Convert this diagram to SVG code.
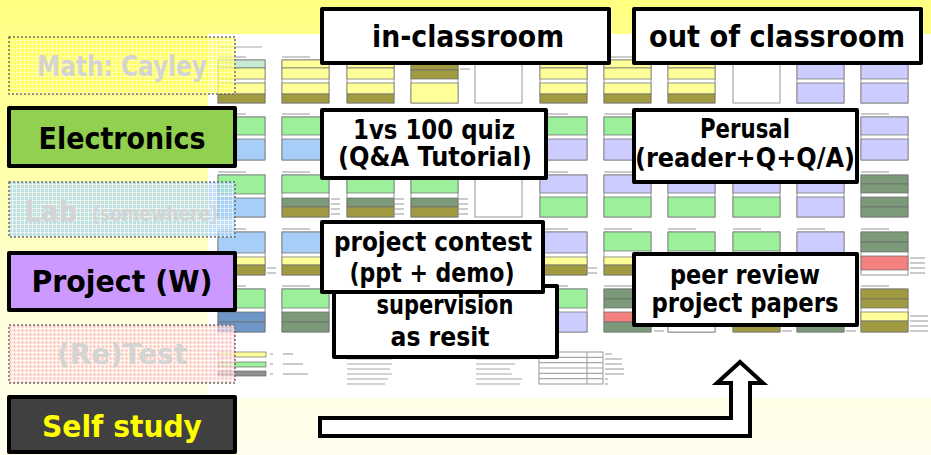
<svg xmlns="http://www.w3.org/2000/svg" width="931" height="455" viewBox="0 0 931 455">
<defs>
<linearGradient id="bg" x1="0" y1="0" x2="0" y2="1">
<stop offset="0" stop-color="#FFFF80"/>
<stop offset="0.35" stop-color="#FFFFA6"/>
<stop offset="0.7" stop-color="#FFFFDC"/>
<stop offset="1" stop-color="#FFFEEE"/>
</linearGradient>
<pattern id="dotY" width="4" height="4" patternUnits="userSpaceOnUse">
<rect width="4" height="4" fill="#FFFF50"/>
<rect x="0" y="0" width="4" height="1" fill="#FFFFFF" opacity="0.6"/>
<rect x="0" y="0" width="1" height="4" fill="#FFFFFF" opacity="0.6"/>
</pattern>
<pattern id="dotB" width="4" height="4" patternUnits="userSpaceOnUse">
<rect width="4" height="4" fill="#A8D4F4"/>
<rect x="0" y="0" width="4" height="1" fill="#FFFFFF" opacity="0.7"/>
<rect x="0" y="0" width="1" height="4" fill="#FFFFFF" opacity="0.7"/>
</pattern>
<pattern id="dotR" width="4" height="4" patternUnits="userSpaceOnUse">
<rect width="4" height="4" fill="#FFD4D4"/>
<rect x="0" y="0" width="4" height="1" fill="#FFFFFF" opacity="0.7"/>
<rect x="0" y="0" width="1" height="4" fill="#FFFFFF" opacity="0.7"/>
<rect x="2" y="2" width="1" height="1" fill="#F08080"/>
</pattern>
<style>
.c rect{stroke:#6a6a6a;stroke-width:0.7}
.y{fill:#FFFF99}.o{fill:#A09A42}.g{fill:#9CF09C}.b{fill:#A6CEF6}.l{fill:#CCCCFF}
.d{fill:#7C9A7A}.r{fill:#F58080}.s{fill:#6E96C6}.w{fill:#FFFFFF}.t{fill:#C6EAD2}
.m line{stroke:#A8A8A8;stroke-width:1.2}
.ghost{stroke:#6e6e6e;stroke-width:1.5;stroke-dasharray:2 2;fill-opacity:0.75}
.box{stroke:#000;stroke-width:4;stroke-linejoin:round}
.lbl{font-family:"DejaVu Sans","Liberation Sans",sans-serif;font-weight:bold;text-anchor:middle}
.gt{fill:#D4D4D4}
</style>
</defs>

<!-- background -->
<rect x="0" y="0" width="931" height="455" fill="url(#bg)"/>
<rect x="208" y="34" width="723" height="364" fill="#FFFFFF"/>

<!-- schedule screenshot -->
<g id="schedule">
<g class="m">
<line x1="218" y1="47" x2="262" y2="47"/>
<line x1="330" y1="47" x2="360" y2="47"/>
<line x1="330" y1="52" x2="380" y2="52"/>
<line x1="218" y1="57" x2="246" y2="57"/><line x1="282" y1="57" x2="310" y2="57"/><line x1="347" y1="57" x2="375" y2="57"/><line x1="411" y1="57" x2="439" y2="57"/><line x1="475" y1="57" x2="503" y2="57"/><line x1="540" y1="57" x2="568" y2="57"/><line x1="604" y1="57" x2="632" y2="57"/><line x1="668" y1="57" x2="696" y2="57"/><line x1="733" y1="57" x2="761" y2="57"/><line x1="797" y1="57" x2="825" y2="57"/><line x1="861" y1="57" x2="889" y2="57"/>
<line x1="218" y1="114" x2="246" y2="114"/><line x1="282" y1="114" x2="310" y2="114"/><line x1="540" y1="114" x2="568" y2="114"/><line x1="604" y1="114" x2="632" y2="114"/><line x1="861" y1="114" x2="889" y2="114"/>
<line x1="218" y1="172" x2="246" y2="172"/><line x1="282" y1="172" x2="310" y2="172"/><line x1="347" y1="172" x2="375" y2="172"/><line x1="411" y1="172" x2="439" y2="172"/><line x1="475" y1="172" x2="503" y2="172"/><line x1="540" y1="172" x2="568" y2="172"/><line x1="604" y1="172" x2="632" y2="172"/><line x1="668" y1="172" x2="696" y2="172"/><line x1="733" y1="172" x2="761" y2="172"/><line x1="797" y1="172" x2="825" y2="172"/><line x1="861" y1="172" x2="889" y2="172"/>
<line x1="218" y1="229" x2="246" y2="229"/><line x1="282" y1="229" x2="310" y2="229"/><line x1="540" y1="229" x2="568" y2="229"/><line x1="604" y1="229" x2="632" y2="229"/><line x1="668" y1="229" x2="696" y2="229"/><line x1="733" y1="229" x2="761" y2="229"/><line x1="797" y1="229" x2="825" y2="229"/><line x1="861" y1="229" x2="889" y2="229"/>
<line x1="218" y1="286" x2="246" y2="286"/><line x1="282" y1="286" x2="310" y2="286"/><line x1="540" y1="286" x2="568" y2="286"/><line x1="604" y1="286" x2="632" y2="286"/><line x1="861" y1="286" x2="889" y2="286"/>
<line x1="460" y1="64" x2="470" y2="64"/><line x1="460" y1="69" x2="470" y2="69"/>
<line x1="331" y1="199" x2="340" y2="199"/><line x1="331" y1="204" x2="340" y2="204"/><line x1="331" y1="209" x2="340" y2="209"/><line x1="331" y1="214" x2="340" y2="214"/>
<line x1="395" y1="199" x2="404" y2="199"/><line x1="395" y1="204" x2="404" y2="204"/><line x1="395" y1="209" x2="404" y2="209"/><line x1="395" y1="214" x2="404" y2="214"/>
<line x1="459" y1="199" x2="468" y2="199"/><line x1="459" y1="204" x2="468" y2="204"/><line x1="459" y1="209" x2="468" y2="209"/><line x1="459" y1="214" x2="468" y2="214"/>
<line x1="267" y1="268" x2="276" y2="268"/><line x1="267" y1="273" x2="276" y2="273"/>
<line x1="588" y1="268" x2="597" y2="268"/><line x1="588" y1="273" x2="597" y2="273"/>
<line x1="910" y1="258" x2="925" y2="258"/><line x1="910" y1="263" x2="925" y2="263"/><line x1="910" y1="268" x2="925" y2="268"/><line x1="910" y1="273" x2="925" y2="273"/>
<line x1="910" y1="316" x2="928" y2="316"/><line x1="910" y1="321" x2="928" y2="321"/><line x1="910" y1="326" x2="928" y2="326"/><line x1="910" y1="331" x2="928" y2="331"/>
<line x1="654" y1="331" x2="664" y2="331"/><line x1="782" y1="331" x2="792" y2="331"/><line x1="846" y1="331" x2="856" y2="331"/>
</g>
<g class="c">
<!-- cell frames -->
<rect class="w" x="218" y="60" width="47" height="43"/><rect class="w" x="282" y="60" width="47" height="43"/><rect class="w" x="347" y="60" width="47" height="43"/><rect class="w" x="411" y="60" width="47" height="43"/><rect class="w" x="540" y="60" width="47" height="43"/><rect class="w" x="604" y="60" width="47" height="43"/><rect class="w" x="668" y="60" width="47" height="43"/><rect class="w" x="797" y="60" width="47" height="43"/><rect class="w" x="861" y="60" width="47" height="43"/>
<rect class="w" x="218" y="117" width="47" height="43"/><rect class="w" x="282" y="117" width="47" height="43"/><rect class="w" x="347" y="117" width="47" height="43"/><rect class="w" x="411" y="117" width="47" height="43"/><rect class="w" x="475" y="117" width="47" height="43"/><rect class="w" x="540" y="117" width="47" height="43"/><rect class="w" x="604" y="117" width="47" height="43"/><rect class="w" x="668" y="117" width="47" height="43"/><rect class="w" x="733" y="117" width="47" height="43"/><rect class="w" x="797" y="117" width="47" height="43"/><rect class="w" x="861" y="117" width="47" height="43"/>
<rect class="w" x="218" y="175" width="47" height="42"/><rect class="w" x="282" y="175" width="47" height="42"/><rect class="w" x="347" y="175" width="47" height="42"/><rect class="w" x="411" y="175" width="47" height="42"/><rect class="w" x="540" y="175" width="47" height="42"/><rect class="w" x="604" y="175" width="47" height="42"/><rect class="w" x="668" y="175" width="47" height="42"/><rect class="w" x="733" y="175" width="47" height="42"/><rect class="w" x="797" y="175" width="47" height="42"/><rect class="w" x="861" y="175" width="47" height="42"/>
<rect class="w" x="218" y="232" width="47" height="43"/><rect class="w" x="282" y="232" width="47" height="43"/><rect class="w" x="347" y="232" width="47" height="43"/><rect class="w" x="411" y="232" width="47" height="43"/><rect class="w" x="475" y="232" width="47" height="43"/><rect class="w" x="540" y="232" width="47" height="43"/><rect class="w" x="604" y="232" width="47" height="43"/><rect class="w" x="668" y="232" width="47" height="43"/><rect class="w" x="733" y="232" width="47" height="43"/><rect class="w" x="797" y="232" width="47" height="43"/><rect class="w" x="861" y="232" width="47" height="43"/>
<rect class="w" x="218" y="289" width="47" height="43"/><rect class="w" x="282" y="289" width="47" height="43"/><rect class="w" x="347" y="289" width="47" height="43"/><rect class="w" x="411" y="289" width="47" height="43"/><rect class="w" x="475" y="289" width="47" height="43"/><rect class="w" x="540" y="289" width="47" height="43"/><rect class="w" x="604" y="289" width="47" height="43"/><rect class="w" x="668" y="289" width="47" height="43"/><rect class="w" x="733" y="289" width="47" height="43"/><rect class="w" x="797" y="289" width="47" height="43"/><rect class="w" x="861" y="289" width="47" height="43"/>
<!-- Monday -->
<rect class="t" x="218" y="60" width="47" height="8"/><rect class="y" x="218" y="68" width="47" height="11"/><rect class="y" x="218" y="83" width="47" height="11"/><rect class="o" x="218" y="94" width="47" height="9"/>
<rect class="y" x="282" y="60" width="47" height="8"/><rect class="y" x="282" y="68" width="47" height="11"/><rect class="y" x="282" y="83" width="47" height="11"/><rect class="o" x="282" y="94" width="47" height="9"/>
<rect class="y" x="347" y="60" width="47" height="8"/><rect class="y" x="347" y="68" width="47" height="11"/><rect class="y" x="347" y="83" width="47" height="11"/><rect class="o" x="347" y="94" width="47" height="9"/>
<rect class="o" x="411" y="60" width="47" height="10"/><rect class="o" x="411" y="70" width="47" height="9"/><rect class="y" x="411" y="83" width="47" height="20"/>
<rect class="w" x="475" y="60" width="47" height="43"/>
<rect class="y" x="540" y="60" width="47" height="8"/><rect class="y" x="540" y="68" width="47" height="11"/><rect class="y" x="540" y="83" width="47" height="11"/><rect class="o" x="540" y="94" width="47" height="9"/>
<rect class="y" x="604" y="60" width="47" height="8"/><rect class="y" x="604" y="68" width="47" height="11"/><rect class="y" x="604" y="83" width="47" height="11"/><rect class="o" x="604" y="94" width="47" height="9"/>
<rect class="y" x="668" y="60" width="47" height="8"/><rect class="y" x="668" y="68" width="47" height="11"/><rect class="y" x="668" y="83" width="47" height="11"/><rect class="o" x="668" y="94" width="47" height="9"/>
<rect class="w" x="733" y="60" width="47" height="43"/>
<rect class="l" x="797" y="60" width="47" height="19"/><rect class="l" x="797" y="83" width="47" height="20"/>
<rect class="l" x="861" y="60" width="47" height="19"/><rect class="l" x="861" y="83" width="47" height="20"/>
<!-- Tuesday -->
<rect class="g" x="218" y="117" width="47" height="18"/><rect class="b" x="218" y="139" width="47" height="21"/>
<rect class="g" x="282" y="117" width="47" height="18"/><rect class="b" x="282" y="139" width="47" height="21"/>
<rect class="g" x="347" y="117" width="47" height="18"/><rect class="b" x="347" y="139" width="47" height="21"/>
<rect class="g" x="411" y="117" width="47" height="18"/><rect class="b" x="411" y="139" width="47" height="21"/>
<rect class="g" x="475" y="117" width="47" height="18"/><rect class="b" x="475" y="139" width="47" height="21"/>
<rect class="g" x="540" y="117" width="47" height="18"/><rect class="l" x="540" y="139" width="47" height="21"/>
<rect class="g" x="604" y="117" width="47" height="18"/><rect class="l" x="604" y="139" width="47" height="21"/>
<rect class="g" x="668" y="117" width="47" height="18"/><rect class="l" x="668" y="139" width="47" height="21"/>
<rect class="l" x="733" y="117" width="47" height="18"/><rect class="l" x="733" y="139" width="47" height="21"/>
<rect class="l" x="797" y="117" width="47" height="18"/><rect class="l" x="797" y="139" width="47" height="21"/>
<rect class="l" x="861" y="117" width="47" height="18"/><rect class="l" x="861" y="139" width="47" height="21"/>
<!-- Wednesday -->
<rect class="g" x="218" y="175" width="47" height="19"/><rect class="b" x="218" y="198" width="47" height="19"/>
<rect class="g" x="282" y="175" width="47" height="18"/><rect class="d" x="282" y="198" width="47" height="9"/><rect class="o" x="282" y="207" width="47" height="10"/>
<rect class="g" x="347" y="175" width="47" height="18"/><rect class="d" x="347" y="198" width="47" height="9"/><rect class="o" x="347" y="207" width="47" height="10"/>
<rect class="g" x="411" y="175" width="47" height="18"/><rect class="d" x="411" y="198" width="47" height="9"/><rect class="o" x="411" y="207" width="47" height="10"/>
<rect class="w" x="475" y="175" width="47" height="42"/>
<rect class="l" x="540" y="175" width="47" height="18"/><rect class="g" x="540" y="197" width="47" height="20"/>
<rect class="l" x="604" y="175" width="47" height="18"/><rect class="g" x="604" y="197" width="47" height="20"/>
<rect class="l" x="668" y="175" width="47" height="18"/><rect class="g" x="668" y="197" width="47" height="20"/>
<rect class="l" x="733" y="175" width="47" height="18"/><rect class="g" x="733" y="197" width="47" height="20"/>
<rect class="l" x="797" y="175" width="47" height="18"/><rect class="l" x="797" y="197" width="47" height="20"/>
<rect class="d" x="861" y="175" width="47" height="9"/><rect class="d" x="861" y="184" width="47" height="9"/><rect class="d" x="861" y="197" width="47" height="10"/><rect class="d" x="861" y="207" width="47" height="10"/>
<!-- Thursday -->
<rect class="b" x="218" y="232" width="47" height="21"/><rect class="y" x="218" y="257" width="47" height="8"/><rect class="o" x="218" y="265" width="47" height="10"/>
<rect class="b" x="282" y="232" width="47" height="21"/><rect class="y" x="282" y="257" width="47" height="8"/><rect class="o" x="282" y="265" width="47" height="10"/>
<rect class="b" x="347" y="232" width="47" height="21"/><rect class="y" x="347" y="257" width="47" height="8"/><rect class="o" x="347" y="265" width="47" height="10"/>
<rect class="b" x="411" y="232" width="47" height="21"/><rect class="y" x="411" y="257" width="47" height="8"/><rect class="o" x="411" y="265" width="47" height="10"/>
<rect class="b" x="475" y="232" width="47" height="21"/><rect class="y" x="475" y="257" width="47" height="8"/><rect class="o" x="475" y="265" width="47" height="10"/>
<rect class="l" x="540" y="232" width="47" height="21"/><rect class="y" x="540" y="257" width="47" height="8"/><rect class="o" x="540" y="265" width="47" height="10"/>
<rect class="g" x="604" y="232" width="47" height="19"/><rect class="y" x="604" y="257" width="47" height="8"/><rect class="o" x="604" y="265" width="47" height="10"/>
<rect class="g" x="668" y="232" width="47" height="19"/><rect class="y" x="668" y="257" width="47" height="8"/><rect class="o" x="668" y="265" width="47" height="10"/>
<rect class="g" x="733" y="232" width="47" height="19"/><rect class="y" x="733" y="257" width="47" height="8"/><rect class="o" x="733" y="265" width="47" height="10"/>
<rect class="l" x="797" y="232" width="47" height="21"/><rect class="l" x="797" y="257" width="47" height="18"/>
<rect class="d" x="861" y="232" width="47" height="10"/><rect class="d" x="861" y="242" width="47" height="10"/><rect class="r" x="861" y="256" width="47" height="14"/>
<!-- Friday -->
<rect class="g" x="218" y="289" width="47" height="19"/><rect class="s" x="218" y="312" width="47" height="10"/><rect class="s" x="218" y="322" width="47" height="10"/>
<rect class="g" x="282" y="289" width="47" height="19"/><rect class="d" x="282" y="312" width="47" height="10"/><rect class="d" x="282" y="322" width="47" height="10"/>
<rect class="g" x="347" y="289" width="47" height="19"/><rect class="d" x="347" y="312" width="47" height="10"/><rect class="d" x="347" y="322" width="47" height="10"/>
<rect class="g" x="411" y="289" width="47" height="19"/><rect class="d" x="411" y="312" width="47" height="10"/><rect class="d" x="411" y="322" width="47" height="10"/>
<rect class="g" x="475" y="289" width="47" height="19"/><rect class="d" x="475" y="312" width="47" height="10"/><rect class="d" x="475" y="322" width="47" height="10"/>
<rect class="g" x="540" y="289" width="47" height="19"/><rect class="l" x="540" y="312" width="47" height="20"/>
<rect class="d" x="604" y="289" width="47" height="10"/><rect class="d" x="604" y="299" width="47" height="9"/><rect class="r" x="604" y="312" width="47" height="10"/><rect class="d" x="604" y="322" width="47" height="10"/>
<rect class="g" x="668" y="289" width="47" height="19"/><rect class="w" x="668" y="322" width="47" height="10"/>
<rect class="g" x="733" y="289" width="47" height="19"/><rect class="o" x="733" y="322" width="47" height="10"/>
<rect class="l" x="797" y="289" width="47" height="19"/><rect class="d" x="797" y="322" width="47" height="10"/>
<rect class="o" x="861" y="289" width="47" height="10"/><rect class="o" x="861" y="299" width="47" height="9"/><rect class="y" x="861" y="312" width="47" height="9"/><rect class="o" x="861" y="321" width="47" height="11"/>
<!-- legend -->
<rect class="y" x="218" y="352" width="48" height="5"/>
<rect class="g" x="218" y="362" width="48" height="5"/>
<rect fill="#909090" x="218" y="371" width="48" height="5"/>
<rect class="w" x="539" y="352" width="64" height="32"/>
</g>
<g class="m">
<line x1="270" y1="354" x2="273" y2="354"/><line x1="283" y1="354" x2="293" y2="354"/>
<line x1="270" y1="364" x2="273" y2="364"/><line x1="283" y1="364" x2="303" y2="364"/>
<line x1="270" y1="374" x2="273" y2="374"/><line x1="283" y1="374" x2="308" y2="374"/>
<line x1="347" y1="359" x2="392" y2="359"/><line x1="347" y1="364" x2="392" y2="364"/><line x1="347" y1="369" x2="390" y2="369"/><line x1="347" y1="374" x2="392" y2="374"/><line x1="347" y1="379" x2="388" y2="379"/><line x1="347" y1="384" x2="385" y2="384"/>
<line x1="476" y1="359" x2="520" y2="359"/><line x1="476" y1="364" x2="515" y2="364"/><line x1="476" y1="369" x2="510" y2="369"/><line x1="476" y1="374" x2="512" y2="374"/><line x1="476" y1="379" x2="522" y2="379"/><line x1="476" y1="384" x2="520" y2="384"/>
<line x1="539" y1="357.3" x2="603" y2="357.3"/><line x1="539" y1="362.6" x2="603" y2="362.6"/><line x1="539" y1="368" x2="603" y2="368"/><line x1="539" y1="373.3" x2="603" y2="373.3"/><line x1="539" y1="378.6" x2="603" y2="378.6"/><line x1="587" y1="352" x2="587" y2="384"/>
<line x1="605" y1="354" x2="612" y2="354"/><line x1="605" y1="359" x2="622" y2="359"/><line x1="605" y1="364" x2="622" y2="364"/><line x1="605" y1="369" x2="624" y2="369"/><line x1="605" y1="374" x2="624" y2="374"/><line x1="605" y1="379" x2="608" y2="379"/><line x1="605" y1="384" x2="608" y2="384"/>
</g>
</g>

<!-- faded category boxes -->
<g id="math-cayley">
<rect class="ghost" x="9" y="37" width="226" height="57" fill="url(#dotY)"/>
<text class="lbl gt" x="122" y="76" font-size="29" textLength="170" lengthAdjust="spacingAndGlyphs">Math: Cayley</text>
</g>
<g id="lab">
<rect class="ghost" x="9" y="182" width="226" height="55" fill="url(#dotB)"/>
<text class="gt" x="25" y="222" font-family="DejaVu Sans, Liberation Sans, sans-serif" font-weight="bold" font-size="31" textLength="52" lengthAdjust="spacingAndGlyphs">Lab</text>
<text class="gt" x="92" y="221" font-family="DejaVu Sans, Liberation Sans, sans-serif" font-weight="bold" font-size="21" textLength="126" lengthAdjust="spacingAndGlyphs">(somewhere)</text>
</g>
<g id="retest">
<rect class="ghost" x="9" y="325" width="226" height="58" fill="url(#dotR)"/>
<text class="lbl gt" x="122" y="364" font-size="29" textLength="130" lengthAdjust="spacingAndGlyphs">(Re)Test</text>
</g>

<!-- category nodes -->
<g id="electronics">
<rect class="box" x="9" y="108" width="226" height="58" fill="#92D050"/>
<text class="lbl" x="122" y="149" font-size="30" textLength="167" lengthAdjust="spacingAndGlyphs" fill="#000">Electronics</text>
</g>
<g id="project">
<rect class="box" x="9" y="253" width="226" height="57" fill="#CC99FF"/>
<text class="lbl" x="122" y="292" font-size="30" textLength="181" lengthAdjust="spacingAndGlyphs" fill="#000">Project (W)</text>
</g>
<g id="self-study">
<rect class="box" x="9" y="397" width="226" height="55" fill="#404040"/>
<text class="lbl" x="122" y="437" font-size="30" textLength="160" lengthAdjust="spacingAndGlyphs" fill="#FFFF00">Self study</text>
</g>

<!-- connectors -->
<g id="connectors">
<path d="M320 418 L731 418 L731 383 L717 383 L740 362 L763 383 L750 383 L750 436 L320 436 Z" fill="#FFFFFF" stroke="#000" stroke-width="4" stroke-linejoin="miter"/>
</g>

<!-- activity nodes -->
<g id="in-classroom">
<rect class="box" x="322" y="9" width="287" height="54" fill="#FFFFFF"/>
<text class="lbl" x="468" y="47" font-size="30" textLength="192" lengthAdjust="spacingAndGlyphs" fill="#000">in-classroom</text>
</g>
<g id="out-of-classroom">
<rect class="box" x="634" y="9" width="287" height="54" fill="#FFFFFF"/>
<text class="lbl" x="777" y="47" font-size="30" textLength="256" lengthAdjust="spacingAndGlyphs" fill="#000">out of classroom</text>
</g>
<g id="quiz">
<rect class="box" x="322" y="110" width="224" height="68" fill="#FFFFFF"/>
<text class="lbl" x="434" y="139" font-size="26" textLength="162" lengthAdjust="spacingAndGlyphs" fill="#000">1vs 100 quiz</text>
<text class="lbl" x="435" y="166" font-size="26" textLength="194" lengthAdjust="spacingAndGlyphs" fill="#000">(Q&amp;A Tutorial)</text>
</g>
<g id="perusal">
<rect class="box" x="634" y="110" width="223" height="72" fill="#FFFFFF"/>
<text class="lbl" x="745" y="138" font-size="26" textLength="90" lengthAdjust="spacingAndGlyphs" fill="#000">Perusal</text>
<text class="lbl" x="745" y="167" font-size="26" textLength="220" lengthAdjust="spacingAndGlyphs" fill="#000">(reader+Q+Q/A)</text>
</g>
<g id="supervision">
<rect class="box" x="334" y="286" width="223" height="71" fill="#FFFFFF"/>
<text class="lbl" x="445" y="314" font-size="26" textLength="137" lengthAdjust="spacingAndGlyphs" fill="#000">supervision</text>
<text class="lbl" x="440" y="346" font-size="26" textLength="99" lengthAdjust="spacingAndGlyphs" fill="#000">as resit</text>
</g>
<g id="project-contest">
<rect class="box" x="322" y="222" width="221" height="70" fill="#FFFFFF"/>
<text class="lbl" x="433" y="251" font-size="26" textLength="198" lengthAdjust="spacingAndGlyphs" fill="#000">project contest</text>
<text class="lbl" x="432" y="282" font-size="26" textLength="165" lengthAdjust="spacingAndGlyphs" fill="#000">(ppt + demo)</text>
</g>
<g id="peer-review">
<rect class="box" x="634" y="254" width="223" height="71" fill="#FFFFFF"/>
<text class="lbl" x="745" y="284" font-size="26" textLength="150" lengthAdjust="spacingAndGlyphs" fill="#000">peer review</text>
<text class="lbl" x="745" y="312" font-size="26" textLength="187" lengthAdjust="spacingAndGlyphs" fill="#000">project papers</text>
</g>
</svg>
